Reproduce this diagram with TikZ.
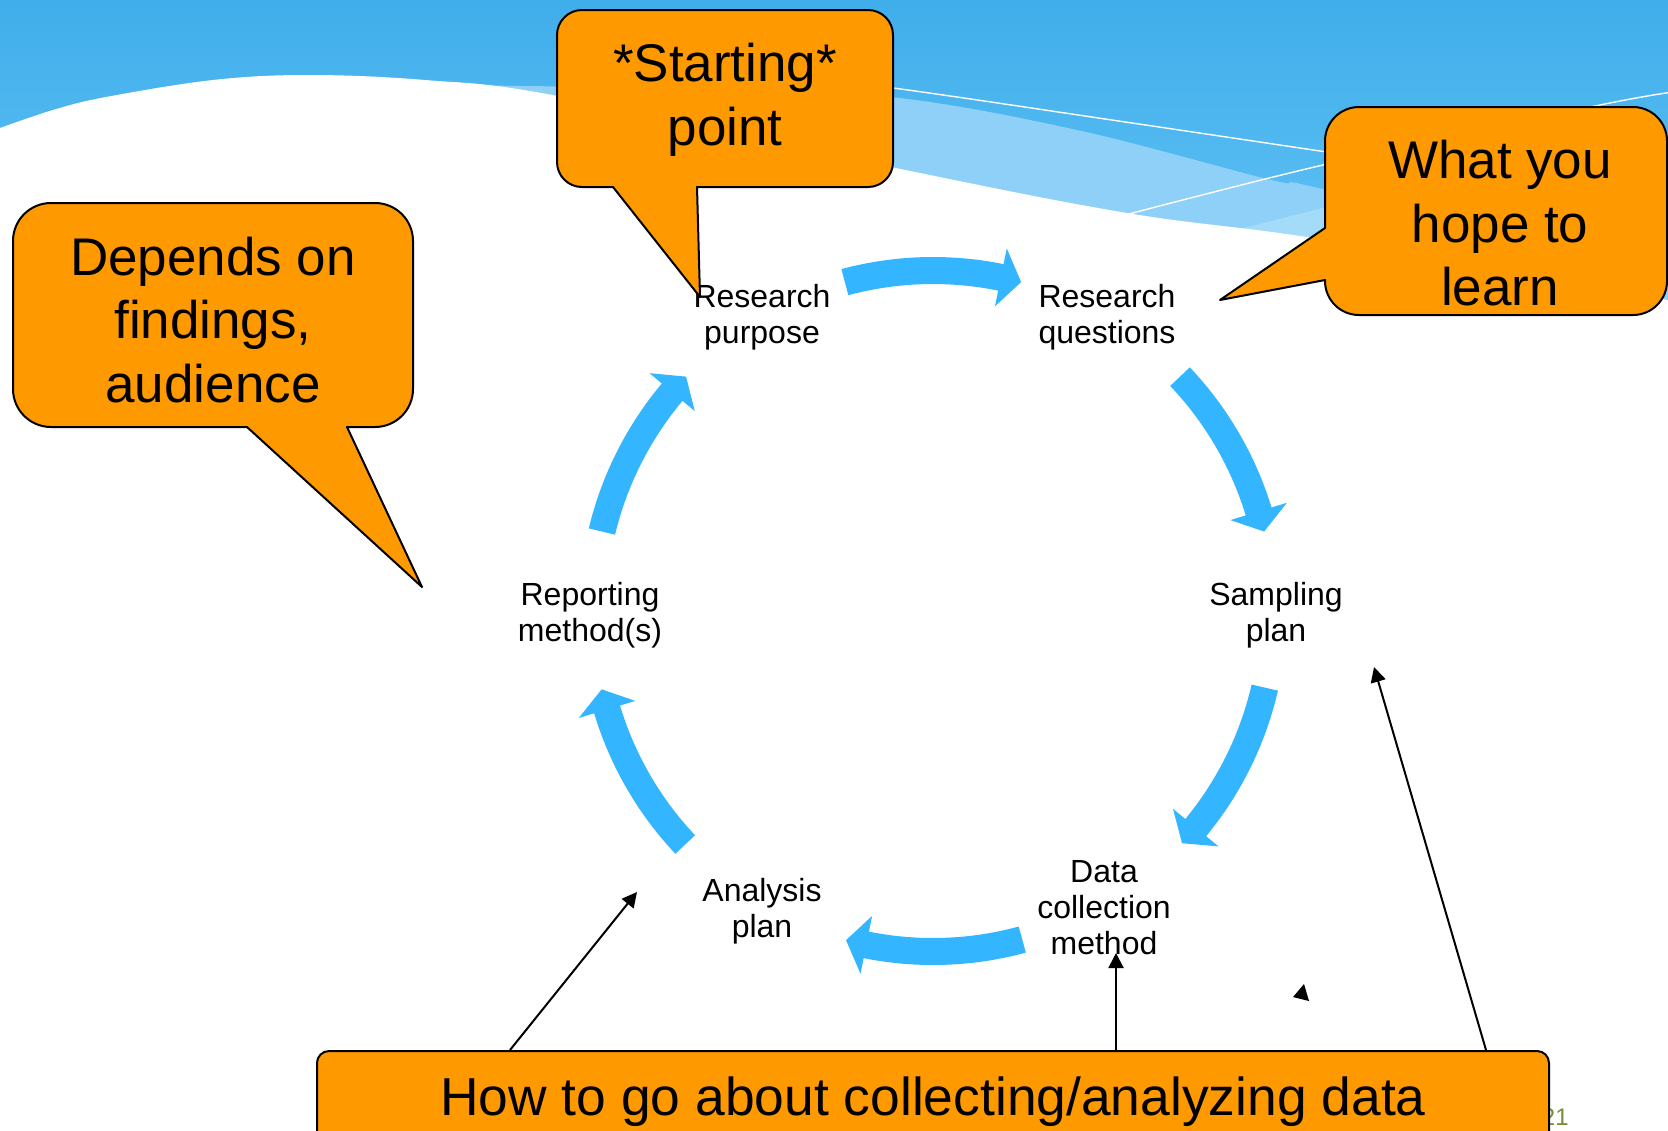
\documentclass[tikz,border=0pt]{standalone}
\usepackage{fontspec}
\setmainfont{Liberation Sans}
\usetikzlibrary{arrows.meta}

\definecolor{skytop}{RGB}{64,174,235}
\definecolor{skybot}{RGB}{110,202,248}
\definecolor{skyband}{RGB}{142,208,247}
\definecolor{skypale}{RGB}{163,219,249}
\definecolor{cyclecol}{RGB}{51,181,255}
\definecolor{calloutfill}{RGB}{255,153,0}
\definecolor{pagenum}{RGB}{118,140,58}

\begin{document}
\begin{tikzpicture}[x=0.5pt,y=-0.5pt,
  cyclabel/.style={font=\fontsize{16}{18}\selectfont, align=center, inner sep=0pt},
  bubble/.style={fill=calloutfill, draw=black, line width=1pt, line join=round},
  bubbletext/.style={font=\fontsize{26.5}{31.75}\selectfont, align=center, inner sep=0pt},
  cyc/.style={fill=cyclecol},
  thinarrow/.style={-{Triangle[length=7.5pt,width=7.5pt]}, line width=1pt},
]
\useasboundingbox (0,0) rectangle (1668,1130);
\clip (0,0) rectangle (1668,1130);

% ---- sky banner ----
\fill[top color=skytop, bottom color=skybot] (0,0) rectangle (1668,400);
\fill[skyband] plot[smooth, tension=0.6] coordinates {(425,84) (520,86) (700,88) (891,97) (1077,130) (1271,180) (1326,190) (1668,280)}
  -- (1668,400) -- (425,400) -- cycle;
\fill[skypale] (1220,234) -- (1330,206) -- (1330,250) -- cycle;
\draw[white, line width=0.7pt] plot[smooth] coordinates {(800,80) (893,88) (1132,123) (1340,154)};
\draw[white, line width=0.7pt] plot[smooth] coordinates {(1125,215) (1323,165) (1600,105) (1680,91)};
\fill[white] plot[smooth, tension=0.6] coordinates {(0,128) (53,110) (106,97) (213,80) (308,75) (425,80) (558,96) (891,167) (1127,213) (1326,240) (1668,300)}
  -- (1668,1130) -- (0,1130) -- cycle;

% ---- cycle labels ----
\coordinate (hub) at (933,611);
\node[cyclabel] (purpose)   at (762,317.6)  {Research\\purpose};
\node[cyclabel] (questions) at (1107,317.6) {Research\\questions};
\node[cyclabel] (sampling)  at (1276,615.2) {Sampling\\plan};
\node[cyclabel] (datacol)   at (1104,907.4) {Data\\collection\\method};
\node[cyclabel] (analysis)  at (762,911.6)  {Analysis\\plan};
\node[cyclabel] (reporting) at (590,615.2)  {Reporting\\method(s)};

% ---- curved cycle arrows (screen angles, clockwise); each entry is mid angle/tilt ----
\foreach \m/\d in {270/0, 330/1.5, 30/-2, 90/-0.2, 150/1.7, 210/-1.5} {
  \pgfmathsetmacro\ta{\m+\d-15}
  \pgfmathsetmacro\tb{\m+\d+11.5}
  \pgfmathsetmacro\tc{\m+\d+15}
  \fill[cyc] plot[domain=\ta:\tb, samples=30] ({933+354*cos(\x)},{611+354*sin(\x)})
    -- ({933+370*cos(\tb)},{611+370*sin(\tb)})
    -- ({933+340.5*cos(\tc)},{611+340.5*sin(\tc)})
    -- ({933+311*cos(\tb)},{611+311*sin(\tb)})
    -- plot[domain=\tb:\ta, samples=30] ({933+327*cos(\x)},{611+327*sin(\x)})
    -- cycle;
}

% ---- callouts ----
\draw[bubble] (697,187) [rounded corners=12.5pt] -- (893,187) -- (893,10) -- (557,10) -- (557,187) [sharp corners] -- (613,187) -- (700,297) -- cycle;
\node[bubbletext] (start) at (725,100) {*Starting*\\point};

\draw[bubble] (347,427) [rounded corners=19pt] -- (413,427) -- (413,203) -- (13,203) -- (13,427) [sharp corners] -- (247,427) -- (422,587) -- cycle;
\node[bubbletext] (depends) at (213,320) {Depends on\\findings,\\audience};

\draw[bubble] (1325,228) [rounded corners=17pt] -- (1325,107) -- (1667,107) -- (1667,315) -- (1325,315) [sharp corners] -- (1325,280) -- (1220,300) -- cycle;
\node[bubbletext] (hope) at (1500,223.5) {What you\\hope to\\learn};

% ---- page number, partly behind the bottom box ----
\node[anchor=base east, text=pagenum, font=\fontsize{12}{14}\selectfont, inner sep=0pt] (pagen) at (1569,1125) {21};

% ---- bottom box ----
\node[bubble, rounded corners=6pt, minimum width=616pt, minimum height=59.5pt,
      text height=12pt, text depth=7.5pt, inner sep=0pt,
      font=\fontsize{26.7}{32}\selectfont] (howto) at (933,1110.5) {How to go about collecting/analyzing data};

\coordinate (t1) at (637,892);
\coordinate (t2) at (1116,953);
\coordinate (t3) at (1374,667);
\draw[thinarrow] ([xshift=-211.5pt]howto.north) -- (t1);
\draw[thinarrow] ([xshift=91.5pt]howto.north) -- (t2);
\draw[thinarrow] ([xshift=276.5pt]howto.north) -- (t3);

% stray arrowhead
\fill (1293,997) -- (1304,984) -- (1309,1001) -- cycle;
\end{tikzpicture}
\end{document}
